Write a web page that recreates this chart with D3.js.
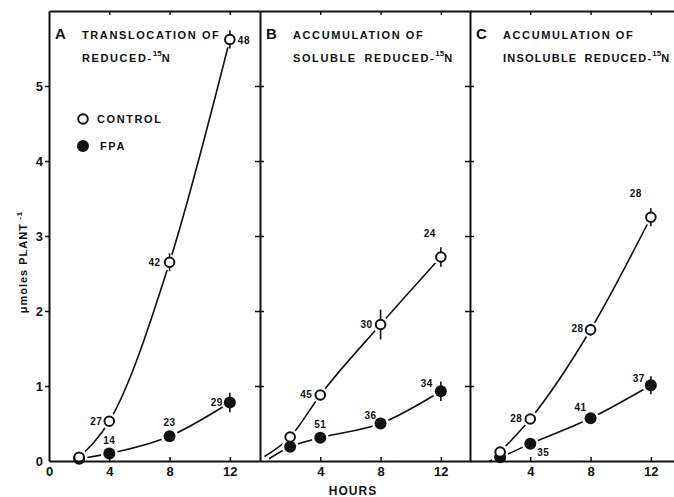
<!DOCTYPE html>
<html>
<head>
<meta charset="utf-8">
<script src="https://cdn.jsdelivr.net/npm/d3@7"></script>
<style>
  body { margin: 0; background: #fff; }
  svg { display: block; font-family: "Liberation Sans", Arial, sans-serif; font-weight: bold; }
</style>
</head>
<body>
<div id="viz"></div>
<script>
// three panels of 15N data, control vs FPA

const hours = [2, 4, 8, 12];
const xTicks = [4, 8, 12];
const yTicks = [1, 2, 3, 4, 5];

// panel A: translocation
const ctrlA = [0.05, 0.53, 2.65, 5.62];
const fpaA = [0.03, 0.10, 0.33, 0.78];
const errCtrlA = [0, 0, 0.12, 0.12];
const errFpaA = [0, 0, 0, 0.13];
const nCtrlA = ['', '27', '42', '48'];
const nFpaA = ['', '14', '23', '29'];

// panel B: soluble
const ctrlB = [0.32, 0.88, 1.82, 2.72];
const fpaB = [0.19, 0.31, 0.50, 0.93];
const errCtrlB = [0, 0, 0.2, 0.13];
const errFpaB = [0, 0, 0, 0.13];
const nCtrlB = ['', '45', '30', '24'];
const nFpaB = ['', '51', '36', '34'];
const startB = [[0.3, 0.06], [0.6, 0.03]];

// panel C: insoluble
const ctrlC = [0.12, 0.56, 1.75, 3.25];
const fpaC = [0.05, 0.23, 0.57, 1.01];
const errCtrlC = [0, 0, 0.08, 0.12];
const errFpaC = [0, 0, 0, 0.12];
const nCtrlC = ['', '28', '28', '28'];
const nFpaC = ['', '35', '41', '37'];
const startC = [null, [1.3, 0.0]];

const letters = ['A', 'B', 'C'];
const titles1 = ['TRANSLOCATION OF', 'ACCUMULATION OF', 'ACCUMULATION OF'];
const titles2 = ['REDUCED-', 'SOLUBLE REDUCED-', 'INSOLUBLE REDUCED-'];

// label placement [dx, dy, anchor] -- layout only
const labelPos = {
    ctrlA: [null, [-7, 4, 'end'], [-9, 4, 'end'], [8, 4, 'start']],
    fpaA: [null, [0, -10, 'middle'], [0, -10, 'middle'], [-7, 3, 'end']],
    ctrlB: [null, [-8, 3, 'end'], [-8, 3, 'end'], [-5, -20, 'end']],
    fpaB: [null, [0, -10, 'middle'], [-4, -5, 'end'], [-8, -4, 'end']],
    ctrlC: [null, [-8, 3, 'end'], [-7, 2, 'end'], [-9, -20, 'end']],
    fpaC: [null, [7, 12, 'start'], [-4, -7, 'end'], [-6, -3, 'end']]
};

const dimensions = {
    width: 674,
    height: 497,
    top: 11,
    bottom: 461,
    panelWidth: 211,
    panelLeft: [49, 260, 470]
};

const viz = d3.select('#viz').append('svg')
    .attr('width', dimensions.width)
    .attr('height', dimensions.height);

const yScale = d3.scaleLinear()
    .domain([0, 6])
    .range([dimensions.bottom, dimensions.top]);

const panels = [
    { ctrl: ctrlA, fpa: fpaA, errCtrl: errCtrlA, errFpa: errFpaA, nCtrl: nCtrlA, nFpa: nFpaA, start: [null, null], lc: 'ctrlA', lf: 'fpaA' },
    { ctrl: ctrlB, fpa: fpaB, errCtrl: errCtrlB, errFpa: errFpaB, nCtrl: nCtrlB, nFpa: nFpaB, start: startB, lc: 'ctrlB', lf: 'fpaB' },
    { ctrl: ctrlC, fpa: fpaC, errCtrl: errCtrlC, errFpa: errFpaC, nCtrl: nCtrlC, nFpa: nFpaC, start: startC, lc: 'ctrlC', lf: 'fpaC' }
];

const line = d3.line()
    .x(d => d.sx)
    .y(d => yScale(d[1]))
    .curve(d3.curveMonotoneX);

panels.forEach(function(p, i) {
    const left = dimensions.panelLeft[i];
    const xScale = d3.scaleLinear()
        .domain([0, 14])
        .range([left, left + dimensions.panelWidth]);

    const g = viz.append('g');

    const series = [
        { vals: p.fpa, err: p.errFpa, n: p.nFpa, start: p.start[1], pos: labelPos[p.lf], filled: true },
        { vals: p.ctrl, err: p.errCtrl, n: p.nCtrl, start: p.start[0], pos: labelPos[p.lc], filled: false }
    ];

    // curves
    series.forEach(function(s) {
        let pts = hours.map((h, k) => [h, s.vals[k]]);
        if (s.start) pts = [s.start].concat(pts);
        pts.forEach(d => d.sx = xScale(d[0]));
        g.append('path')
            .attr('d', line(pts))
            .attr('fill', 'none')
            .attr('stroke', '#111')
            .attr('stroke-width', 1.6);
    });

    // white halos so lines stop short of markers
    series.forEach(function(s) {
        g.selectAll(null)
            .data(hours)
            .enter()
            .append('circle')
                .attr('cx', d => xScale(d))
                .attr('cy', (d, k) => yScale(s.vals[k]))
                .attr('r', s.filled ? 8.5 : 8)
                .attr('fill', '#fff');
    });

    series.forEach(function(s) {
        // error bars
        g.selectAll(null)
            .data(hours.filter((h, k) => s.err[k] > 0))
            .enter()
            .append('line')
                .attr('x1', d => xScale(d))
                .attr('x2', d => xScale(d))
                .attr('y1', d => yScale(s.vals[hours.indexOf(d)] + s.err[hours.indexOf(d)]))
                .attr('y2', d => yScale(s.vals[hours.indexOf(d)] - s.err[hours.indexOf(d)]))
                .attr('stroke', '#111')
                .attr('stroke-width', 1.6);

        g.selectAll(null)
            .data(hours)
            .enter()
            .append('circle')
                .attr('cx', d => xScale(d))
                .attr('cy', (d, k) => yScale(s.vals[k]))
                .attr('r', s.filled ? 6 : 4.8)
                .attr('fill', s.filled ? '#111' : '#fff')
                .attr('stroke', '#111')
                .attr('stroke-width', s.filled ? 0 : 2);

        // n labels
        g.selectAll(null)
            .data(hours)
            .enter()
            .filter((d, k) => s.n[k] !== '')
            .append('text')
                .attr('x', d => xScale(d) + s.pos[hours.indexOf(d)][0])
                .attr('y', d => yScale(s.vals[hours.indexOf(d)]) + s.pos[hours.indexOf(d)][1])
                .attr('text-anchor', d => s.pos[hours.indexOf(d)][2])
                .style('font-size', '10px')
                .style('letter-spacing', '0.5px')
                .attr('fill', '#111')
                .text(d => s.n[hours.indexOf(d)]);
    });

    // axes
    const xAxis = g.append('g')
        .attr('transform', `translate(0, ${dimensions.bottom})`)
        .call(d3.axisBottom(xScale)
            .tickValues(i === 0 ? [0].concat(xTicks) : xTicks)
            .tickSizeInner(-4)
            .tickSizeOuter(0)
            .tickPadding(6));

    const topAxis = g.append('g')
        .attr('transform', `translate(0, ${dimensions.top})`)
        .call(d3.axisTop(xScale)
            .tickValues(xTicks)
            .tickSizeInner(-4)
            .tickSizeOuter(0)
            .tickFormat(''));

    let yAxis;
    if (i === 0) {
        yAxis = g.append('g')
            .attr('transform', `translate(${left}, 0)`)
            .call(d3.axisLeft(yScale)
                .tickValues([0].concat(yTicks))
                .tickSizeInner(4)
                .tickSizeOuter(0)
                .tickPadding(2)
                .tickFormat(d3.format('d')));
        yAxis.selectAll('.tick').filter(d => d === 0).select('line').remove();
        xAxis.selectAll('.tick').filter(d => d === 0).select('line').remove();
    } else {
        yAxis = g.append('g')
            .attr('transform', `translate(${left}, 0)`)
            .call(d3.axisLeft(yScale)
                .tickValues(yTicks)
                .tickSizeInner(5)
                .tickSizeOuter(0)
                .tickFormat(''));
        g.append('g')
            .attr('transform', `translate(${left}, 0)`)
            .call(d3.axisRight(yScale)
                .tickValues(yTicks)
                .tickSizeInner(4)
                .tickSizeOuter(0)
                .tickFormat(''))
            .select('.domain').remove();
    }

    g.selectAll('.domain').attr('stroke', '#111').attr('stroke-width', 2);
    g.selectAll('.tick line').attr('stroke', '#111').attr('stroke-width', 1.5);
    g.selectAll('.tick text')
        .attr('fill', '#111')
        .style('font-size', '13px')
        .style('font-family', '"Liberation Sans", Arial, sans-serif')
        .style('font-weight', 'bold');

    // titles
    g.append('text')
        .attr('x', left + 6)
        .attr('y', 39)
        .style('font-size', '15px')
        .attr('fill', '#111')
        .text(letters[i]);

    g.append('text')
        .attr('x', left + 33)
        .attr('y', 39)
        .style('font-size', '11px')
        .style('letter-spacing', '1.6px')
        .attr('fill', '#111')
        .text(titles1[i]);

    const t2 = g.append('text')
        .attr('x', left + 33)
        .attr('y', 62)
        .style('font-size', '11px')
        .style('letter-spacing', i === 2 ? '1.2px' : '1.6px')
        .style('word-spacing', '3px')
        .attr('fill', '#111');
    t2.append('tspan').text(titles2[i]);
    t2.append('tspan').attr('dy', -6).style('font-size', '8px').style('letter-spacing', '0px').text('15');
    t2.append('tspan').attr('dy', 6).text('N');
});

// legend in panel A
const legend = viz.append('g');
legend.append('circle')
    .attr('cx', 83).attr('cy', 119).attr('r', 4.8)
    .attr('fill', '#fff').attr('stroke', '#111').attr('stroke-width', 2);
legend.append('text')
    .attr('x', 97).attr('y', 123)
    .style('font-size', '11px').style('letter-spacing', '1.6px')
    .attr('fill', '#111')
    .text('CONTROL');
legend.append('circle')
    .attr('cx', 83).attr('cy', 146).attr('r', 6)
    .attr('fill', '#111');
legend.append('text')
    .attr('x', 100).attr('y', 150)
    .style('font-size', '11px').style('letter-spacing', '1.6px')
    .attr('fill', '#111')
    .text('FPA');

// axis titles
const yLabel = viz.append('text')
    .attr('transform', 'translate(27, 262) rotate(-90)')
    .attr('text-anchor', 'middle')
    .style('font-size', '11px')
    .style('letter-spacing', '1px')
    .attr('fill', '#111');
yLabel.append('tspan').text('\u03bcmoles  PLANT');
yLabel.append('tspan').attr('dy', -5).style('font-size', '8px').text(' -1');

viz.append('text')
    .attr('x', 353)
    .attr('y', 495)
    .attr('text-anchor', 'middle')
    .style('font-size', '12px')
    .style('letter-spacing', '1px')
    .attr('fill', '#111')
    .text('HOURS');
</script>
</body>
</html>
